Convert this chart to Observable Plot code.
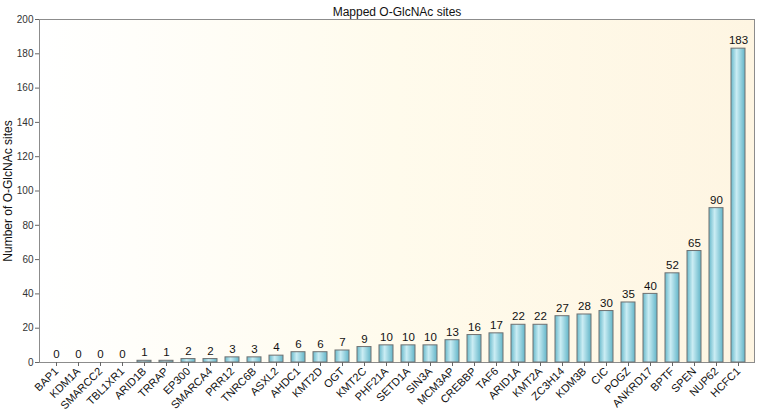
<!DOCTYPE html>
<html>
<head>
<meta charset="utf-8">
<script src="https://cdn.jsdelivr.net/npm/d3@7"></script>
<script src="https://cdn.jsdelivr.net/npm/@observablehq/plot@0.6"></script>
<style>
  html, body { margin: 0; padding: 0; background: #fff; }
  #chart svg { display: block; }
</style>
</head>
<body>
<div id="chart"></div>
<script>
const genes = ["BAP1","KDM1A","SMARCC2","TBL1XR1","ARID1B","TRRAP","EP300","SMARCA4","PRR12","TNRC6B","ASXL2","AHDC1","KMT2D","OGT","KMT2C","PHF21A","SETD1A","SIN3A","MCM3AP","CREBBP","TAF6","ARID1A","KMT2A","ZC3H14","KDM3B","CIC","POGZ","ANKRD17","BPTF","SPEN","NUP62","HCFC1"];
const sites = [0,0,0,0,1,1,2,2,3,3,4,6,6,7,9,10,10,10,13,16,17,22,22,27,28,30,35,40,52,65,90,183];
const yTicks = [0,20,40,60,80,100,120,140,160,180,200];
const title = "Mapped O-GlcNAc sites";
const yLabel = "Number of O-GlcNAc sites";

const data = genes.map((g, i) => ({gene: g, value: sites[i]}));
const font = "Liberation Sans, Arial, Helvetica, sans-serif";

const chart = Plot.plot({
  width: 759,
  height: 413,
  marginTop: 19,
  marginBottom: 51,
  marginLeft: 39,
  marginRight: 5,
  style: {fontFamily: font, fontSize: "11px", color: "#222", background: "#fff"},
  x: {type: "band", domain: genes, paddingInner: 0.37, paddingOuter: 0.185, label: null},
  y: {domain: [0, 200], label: null},
  marks: [
    Plot.frame({fill: "url(#bgGrad)", stroke: "#8c8c8c", strokeWidth: 1}),
    Plot.barY(data, {x: "gene", y: "value", fill: "url(#barGrad)", stroke: "#707070", strokeWidth: 1}),
    Plot.text(data, {x: "gene", y: "value", text: d => String(d.value), dy: -8, fontSize: 11.5, fill: "#111"}),
    Plot.axisY({ticks: yTicks, tickSize: 4, tickPadding: 2, fontSize: 10, stroke: "#666", fill: "#333", label: null}),
    Plot.axisX({tickSize: 4, tickPadding: 3, tickRotate: -45, fontSize: 11, stroke: "#666", fill: "#111", label: null}),
    Plot.text([title], {frameAnchor: "top", dy: -12, fontSize: 12, fill: "#111"}),
    Plot.text([yLabel], {frameAnchor: "left", dx: -31, rotate: -90, textAnchor: "middle", fontSize: 12, fill: "#111"})
  ]
});

const svg = d3.select(chart);
const defs = svg.insert("defs", ":first-child");
const bg = defs.append("linearGradient").attr("id", "bgGrad").attr("x1", "0%").attr("x2", "100%").attr("y1", "0%").attr("y2", "0%");
bg.append("stop").attr("offset", "0%").attr("stop-color", "#ffffff");
bg.append("stop").attr("offset", "50%").attr("stop-color", "#fffbec");
bg.append("stop").attr("offset", "100%").attr("stop-color", "#fef5e2");
const bar = defs.append("linearGradient").attr("id", "barGrad").attr("x1", "0%").attr("x2", "100%").attr("y1", "0%").attr("y2", "0%");
bar.append("stop").attr("offset", "0%").attr("stop-color", "#68b9cb");
bar.append("stop").attr("offset", "40%").attr("stop-color", "#cbedf4");
bar.append("stop").attr("offset", "100%").attr("stop-color", "#62b5c8");

document.getElementById("chart").appendChild(chart);
</script>
</body>
</html>
